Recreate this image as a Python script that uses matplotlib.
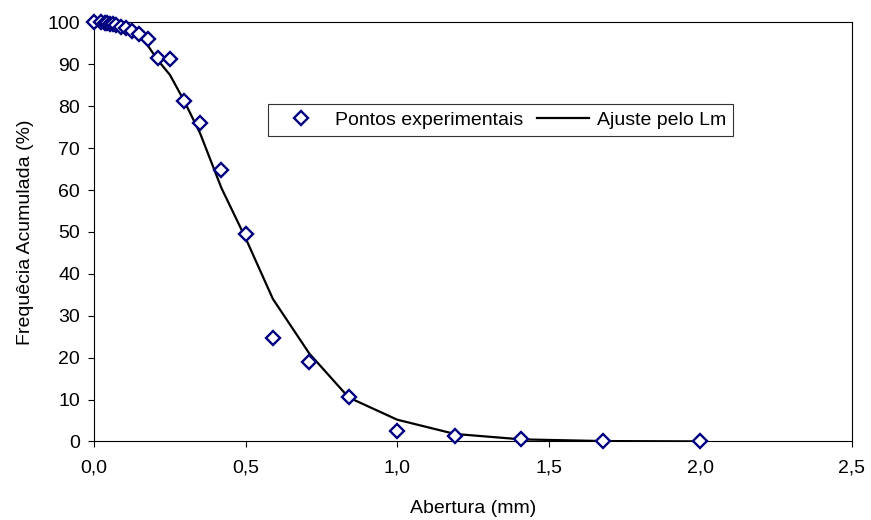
import matplotlib.pyplot as plt
from matplotlib.ticker import FuncFormatter

plt.rcParams['font.family'] = ['Liberation Sans', 'DejaVu Sans']
plt.rcParams['font.size'] = 14

# Abertura das peneiras (mm) e frequencia acumulada (%)
ABERTURA = [0.0, 0.022, 0.037, 0.044, 0.053, 0.063, 0.074, 0.088, 0.105,
            0.125, 0.149, 0.177, 0.21, 0.25, 0.297, 0.35, 0.42, 0.5,
            0.59, 0.71, 0.84, 1.0, 1.19, 1.41, 1.68, 2.0]
PONTOS = [100.0, 100.0, 99.9, 99.8, 99.7, 99.5, 99.3, 99.0, 98.6,
          98.0, 97.2, 96.0, 91.5, 91.2, 81.3, 76.0, 64.7, 49.6,
          24.8, 19.0, 10.5, 2.6, 1.2, 0.5, 0.1, 0.0]
AJUSTE = [100.0, 100.0, 100.0, 99.9, 99.9, 99.8, 99.6, 99.3, 98.8,
          97.9, 96.5, 94.5, 91.0, 87.5, 81.3, 73.5, 60.5, 48.5,
          34.0, 21.0, 10.5, 5.2, 1.8, 0.5, 0.1, 0.02]

fig = plt.figure(figsize=(8.71, 5.2), dpi=100)
ax = fig.add_axes([0.108, 0.151, 0.870, 0.806])

ax.plot(ABERTURA, PONTOS, linestyle='none', marker='D', markersize=6.8,
        markerfacecolor='white', markeredgecolor='#000080',
        markeredgewidth=1.7, label='Pontos experimentais', clip_on=False,
        zorder=3)
ax.plot(ABERTURA, AJUSTE, color='black', linewidth=1.6,
        label='Ajuste pelo Lm', zorder=2)

ax.set_xlim(0, 2.5)
ax.set_ylim(0, 100)
ax.set_xticks([0, 0.5, 1.0, 1.5, 2.0, 2.5])
ax.set_yticks(range(0, 101, 10))
ax.xaxis.set_major_formatter(FuncFormatter(lambda v, p: f'{v:.1f}'.replace('.', ',')))
ax.tick_params(direction='out', length=4, width=0.8, colors='black',
               labelsize=14)
ax.tick_params(axis='x', pad=9)
ax.tick_params(axis='y', pad=6)

for s in ax.spines.values():
    s.set_linewidth(0.8)
    s.set_color('black')

ax.set_xlabel('Abertura (mm)', fontsize=14, labelpad=17)
ax.set_ylabel('Frequêcia Acumulada (%)', fontsize=14, labelpad=10)

leg = ax.legend(loc='center', bbox_to_anchor=(0.536, 0.767), ncol=2,
                frameon=True, fancybox=False, edgecolor='black',
                handlelength=2.7, columnspacing=0.7, handletextpad=0.4,
                borderpad=0.35, borderaxespad=0, fontsize=14)
leg.get_frame().set_linewidth(0.8)

fig.savefig('out.png', dpi=100)
